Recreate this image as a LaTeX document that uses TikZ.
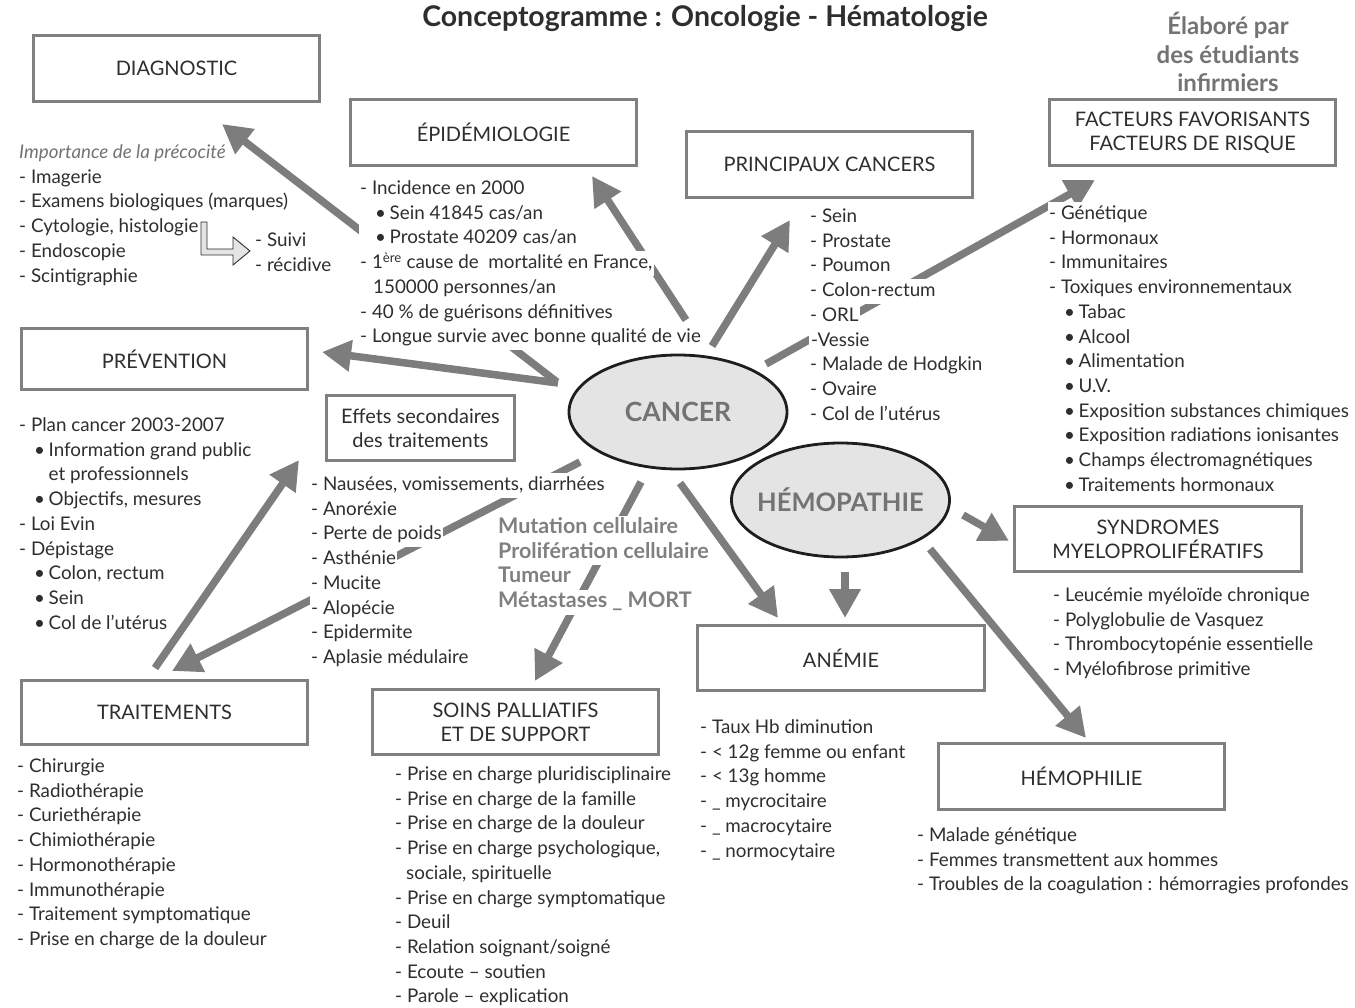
\documentclass[tikz,border=0pt]{standalone}
\usepackage{fontspec}
\setmainfont{Lato}
\usetikzlibrary{arrows.meta,shapes.geometric}

\definecolor{ink}{HTML}{2E2E2E}
\definecolor{frame}{HTML}{808080}
\definecolor{arrowgray}{HTML}{7D7D7D}
\definecolor{ovalfill}{HTML}{E4E4E4}
\definecolor{ovalline}{HTML}{1E1E1E}
\definecolor{soft}{HTML}{737373}

% one list line on a white strip of full line height, so arrows pass behind it
\newcommand\lnstrut{\rule[-7pt]{0pt}{24.7pt}}
\newcommand\wl[1]{{\setlength\fboxsep{0pt}\colorbox{white}{\lnstrut\hspace{1.5pt}#1\hspace{1.5pt}}}}
\newcommand\bl[1]{\wl{\makebox[29.5pt][l]{\hspace{15pt}\textbullet}#1}}

\tikzset{
  box/.style={draw=frame, line width=3.2pt, fill=white, minimum width=286pt,
    minimum height=66pt, inner sep=0pt, align=center, text=ink,
    font=\fontsize{20}{24}\selectfont},
  oval/.style={ellipse, draw=ovalline, line width=2.8pt, fill=ovalfill,
    minimum width=218pt, minimum height=114pt, inner xsep=-50pt,
    inner ysep=-20pt, text=soft, font=\fontsize{26.5}{30}\selectfont\bfseries},
  listtext/.style={anchor=north west, inner sep=0pt, align=left, text=ink,
    font=\fontsize{18.8}{24.7}\selectfont},
  link/.style={draw=arrowgray, line width=7.5pt,
    -{Triangle[length=29pt,width=30pt]}},
}

\begin{document}
\begin{tikzpicture}[x=1pt,y=-1pt]
\fill[white] (0,0) rectangle (1355,1008);
\useasboundingbox (0,0) rectangle (1355,1008);

% ---- arrow ends ----
\coordinate (s-diag) at (557,382);   \coordinate (e-diag) at (222,124);
\coordinate (s-prev) at (558,383);   \coordinate (e-prev) at (322,352);
\coordinate (s-epid) at (686,320);   \coordinate (e-epid) at (592,176);
\coordinate (s-princ) at (712,346);  \coordinate (e-princ) at (790,220);
\coordinate (s-fact) at (766,364);   \coordinate (e-fact) at (1095,180);
\coordinate (s-trait) at (580,462);  \coordinate (e-trait) at (172,671);
\coordinate (s-eff) at (155,668);    \coordinate (e-eff) at (299,460);
\coordinate (s-soins) at (641,482);  \coordinate (e-soins) at (535,681);
\coordinate (s-anem) at (680,483);   \coordinate (e-anem) at (778,618);
\coordinate (s-hanem) at (845,572);  \coordinate (e-hanem) at (845,618);
\coordinate (s-synd) at (963,515);   \coordinate (e-synd) at (1009,541);
\coordinate (s-hemo) at (930,549);   \coordinate (e-hemo) at (1086,738);

% ---- connectors (drawn first, text strips cover them) ----
\draw[link] (s-diag) -- (e-diag);
\draw[link] (s-prev) -- (e-prev);
\draw[link] (s-epid) -- (e-epid);
\draw[link] (s-princ) -- (e-princ);
\draw[link] (s-fact) -- (e-fact);
\draw[link] (s-trait) -- (e-trait);
\draw[link] (s-eff) -- (e-eff);
\draw[link] (s-soins) -- (e-soins);
\draw[link] (s-anem) -- (e-anem);
\draw[link] (s-hanem) -- (e-hanem);
\draw[link] (s-synd) -- (e-synd);
\draw[link] (s-hemo) -- (e-hemo);

% ---- title ----
\node[text=ink, font=\fontsize{28.5}{32}\selectfont\bfseries] (title) at (705,18)
  {Conceptogramme : Oncologie - Hématologie};
\node[text=soft, align=center, font=\fontsize{24}{28.5}\selectfont\bfseries]
  (auteurs) at (1228,52) {Élaboré par\\des étudiants\\infirmiers};

% ---- boxes ----
\node[box] (diag) at (176.5,68.5) {DIAGNOSTIC};
\node[box] (epid) at (493.5,132.5) {ÉPIDÉMIOLOGIE};
\node[box] (princ) at (829.5,164.5) {PRINCIPAUX CANCERS};
\node[box] (fact) at (1192.5,132.5) {FACTEURS FAVORISANTS\\FACTEURS DE RISQUE};
\node[box, minimum height=61pt] (prev) at (164.5,359) {PRÉVENTION};
\node[box, minimum width=188pt, minimum height=65pt] (effets) at (420.5,428)
  {Effets secondaires\\des traitements};
\node[box, minimum width=287pt, minimum height=65pt] (synd) at (1158,539)
  {SYNDROMES\\MYELOPROLIFÉRATIFS};
\node[box, minimum width=287pt, minimum height=65pt] (anem) at (841,658) {ANÉMIE};
\node[box, minimum height=64pt] (trait) at (164.5,712.5) {TRAITEMENTS};
\node[box, minimum height=65pt] (soins) at (515.5,722)
  {SOINS PALLIATIFS\\ET DE SUPPORT};
\node[box] (hemoph) at (1081.5,776.5) {HÉMOPHILIE};

% ---- central ovals ----
\node[oval] (cancer) at (678,412) {CANCER};
\node[oval, font=\fontsize{25.5}{30}\selectfont\bfseries] (hemopathie)
  at (840.5,500) {HÉMOPATHIE};

% ---- lists ----
\node[listtext] (l-diag) at (17.5,140.65) {%
  \wl{\textcolor{soft}{\itshape Importance de la précocité}}\\
  \wl{- Imagerie}\\
  \wl{- Examens biologiques (marques)}\\
  \wl{- Cytologie, histologie}\\
  \wl{- Endoscopie}\\
  \wl{- Scintigraphie}};

\node[listtext] (l-suivi) at (253.5,228.65) {%
  \wl{- Suivi}\\
  \wl{- récidive}};

\node[listtext] (l-epid) at (358.5,176.65) {%
  \wl{- Incidence en 2000}\\
  \bl{Sein 41845 cas/an}\\
  \bl{Prostate 40209 cas/an}\\
  \wl{- 1\textsuperscript{ère} cause de\ \ mortalité en France,}\\
  \wl{\hspace*{13pt}150000 personnes/an}\\
  \wl{- 40 \% de guérisons définitives}\\
  \wl{- Longue survie avec bonne qualité de vie}};

\node[listtext] (l-princ) at (808.5,204.65) {%
  \wl{- Sein}\\
  \wl{- Prostate}\\
  \wl{- Poumon}\\
  \wl{- Colon-rectum}\\
  \wl{- ORL}\\
  \wl{\hspace*{1pt}-Vessie}\\
  \wl{- Malade de Hodgkin}\\
  \wl{- Ovaire}\\
  \wl{- Col de l’utérus}};

\node[listtext] (l-fact) at (1047.5,201.65) {%
  \wl{- Génétique}\\
  \wl{- Hormonaux}\\
  \wl{- Immunitaires}\\
  \wl{- Toxiques environnementaux}\\
  \bl{Tabac}\\
  \bl{Alcool}\\
  \bl{Alimentation}\\
  \bl{U.V.}\\
  \bl{Exposition substances chimiques}\\
  \bl{Exposition radiations ionisantes}\\
  \bl{Champs électromagnétiques}\\
  \bl{Traitements hormonaux}};

\node[listtext] (l-prev) at (17.5,413.65) {%
  \wl{- Plan cancer 2003-2007}\\
  \bl{Information grand public}\\
  \wl{\hspace*{29.5pt}et professionnels}\\
  \bl{Objectifs, mesures}\\
  \wl{- Loi Evin}\\
  \wl{- Dépistage}\\
  \bl{Colon, rectum}\\
  \bl{Sein}\\
  \bl{Col de l’utérus}};

\node[listtext] (l-effets) at (309.5,472.65) {%
  \wl{- Nausées, vomissements, diarrhées}\\
  \wl{- Anoréxie}\\
  \wl{- Perte de poids}\\
  \wl{- Asthénie}\\
  \wl{- Mucite}\\
  \wl{- Alopécie}\\
  \wl{- Epidermite}\\
  \wl{- Aplasie médulaire}};

\node[listtext, text=frame, font=\fontsize{21.5}{24.7}\selectfont\bfseries]
  (l-process) at (496.5,515.65) {%
  \wl{Mutation cellulaire}\\
  \wl{Prolifération cellulaire}\\
  \wl{Tumeur}\\
  \wl{Métastases \_ MORT}};

\node[listtext] (l-synd) at (1051.5,583.65) {%
  \wl{- Leucémie myéloïde chronique}\\
  \wl{- Polyglobulie de Vasquez}\\
  \wl{- Thrombocytopénie essentielle}\\
  \wl{- Myélofibrose primitive}};

\node[listtext] (l-trait) at (15.5,754.65) {%
  \wl{- Chirurgie}\\
  \wl{- Radiothérapie}\\
  \wl{- Curiethérapie}\\
  \wl{- Chimiothérapie}\\
  \wl{- Hormonothérapie}\\
  \wl{- Immunothérapie}\\
  \wl{- Traitement symptomatique}\\
  \wl{- Prise en charge de la douleur}};

\node[listtext] (l-soins) at (393.5,762.65) {%
  \wl{- Prise en charge pluridisciplinaire}\\
  \wl{- Prise en charge de la famille}\\
  \wl{- Prise en charge de la douleur}\\
  \wl{- Prise en charge psychologique,}\\
  \wl{\hspace*{11pt}sociale, spirituelle}\\
  \wl{- Prise en charge symptomatique}\\
  \wl{- Deuil}\\
  \wl{- Relation soignant/soigné}\\
  \wl{- Ecoute – soutien}\\
  \wl{- Parole – explication}};

\node[listtext] (l-anem) at (698.5,715.65) {%
  \wl{- Taux Hb diminution}\\
  \wl{- < 12g femme ou enfant}\\
  \wl{- < 13g homme}\\
  \wl{- \_ mycrocitaire}\\
  \wl{- \_ macrocytaire}\\
  \wl{- \_ normocytaire}};

\node[listtext] (l-hemoph) at (915.5,823.65) {%
  \wl{- Malade génétique}\\
  \wl{- Femmes transmettent aux hommes}\\
  \wl{- Troubles de la coagulation : hémorragies profondes}};

% ---- hollow bent arrow from the exams towards follow-up ----
\filldraw[fill=ovalfill, draw=ink, line width=0.9pt, line join=miter]
  (201,222) -- (207,222) -- (207,249) -- (233,249) -- (233,237) -- (250,251)
  -- (233,265) -- (233,255) -- (201,255) -- cycle;
\end{tikzpicture}
\end{document}
